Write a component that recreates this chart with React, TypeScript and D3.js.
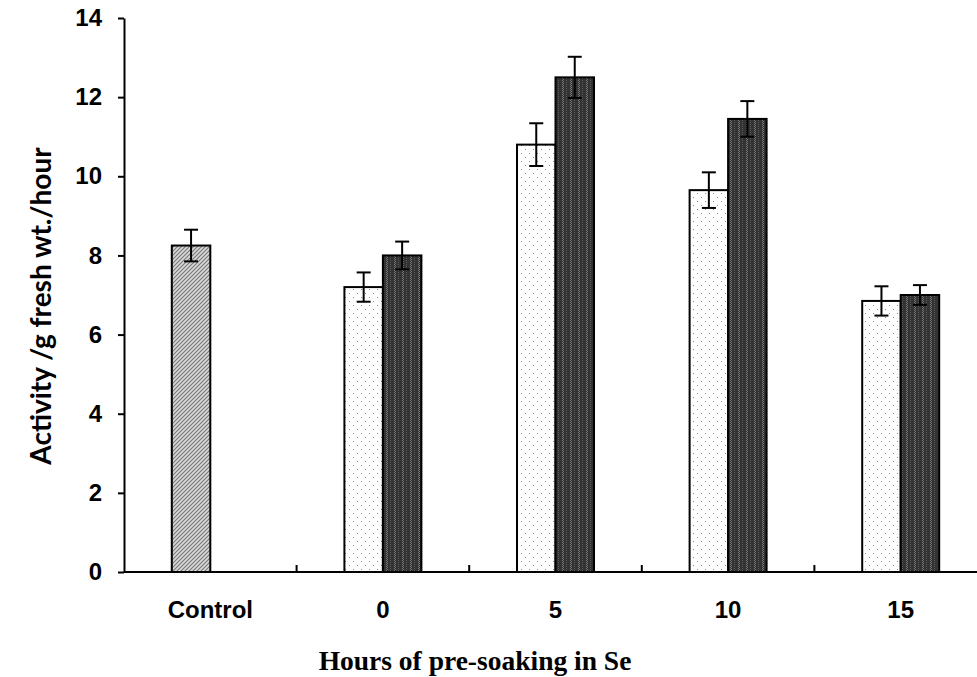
import React from 'react';
import * as d3 from 'd3';

const categories = ['Control', '0', '5', '10', '15'];
// first slot: control bar (only in Control) / light bars; second slot: dark bars
const lightValues = [null, 7.2, 10.8, 9.65, 6.85];
const lightErrors = [null, 0.37, 0.54, 0.45, 0.37];
const darkValues = [null, 8.0, 12.5, 11.45, 7.0];
const darkErrors = [null, 0.35, 0.52, 0.45, 0.25];
const controlValue = 8.25;
const controlError = 0.4;
const yTicks = [0, 2, 4, 6, 8, 10, 12, 14];

const width = 977;
const height = 677;
const margin = { top: 18, right: -10, bottom: 105, left: 124 };

function ActivityChart() {
  const svgRef = React.useRef(null);

  React.useEffect(() => {
    const svg = d3.select(svgRef.current);
    svg.selectAll('*').remove();

    const x = d3
      .scaleBand()
      .domain(categories)
      .range([margin.left, width - margin.right])
      .padding(0);

    const y = d3
      .scaleLinear()
      .domain([0, 14])
      .range([height - margin.bottom, margin.top]);

    const barW = x.bandwidth() * 0.223;

    // patterns
    const defs = svg.append('defs');

    const hatch = defs
      .append('pattern')
      .attr('id', 'hatch')
      .attr('patternUnits', 'userSpaceOnUse')
      .attr('width', 4)
      .attr('height', 4);
    hatch.append('rect').attr('width', 4).attr('height', 4).attr('fill', '#d8d8d8');
    hatch
      .append('path')
      .attr('d', 'M0,4 L4,0 M-1,1 L1,-1 M3,5 L5,3')
      .attr('stroke', '#7a7a7a')
      .attr('stroke-width', 1.2);

    const dots = defs
      .append('pattern')
      .attr('id', 'dots')
      .attr('patternUnits', 'userSpaceOnUse')
      .attr('width', 8)
      .attr('height', 8);
    dots.append('rect').attr('width', 8).attr('height', 8).attr('fill', '#ffffff');
    dots.append('rect').attr('x', 1).attr('y', 1).attr('width', 1).attr('height', 1).attr('fill', '#8a8a8a');
    dots.append('rect').attr('x', 5).attr('y', 5).attr('width', 1).attr('height', 1).attr('fill', '#8a8a8a');

    const stripes = defs
      .append('pattern')
      .attr('id', 'stripes')
      .attr('patternUnits', 'userSpaceOnUse')
      .attr('width', 8)
      .attr('height', 2);
    stripes.append('rect').attr('width', 8).attr('height', 2).attr('fill', '#333333');
    stripes.append('rect').attr('x', 2).attr('width', 1).attr('height', 1).attr('fill', '#777777');
    stripes.append('rect').attr('x', 3).attr('y', 1).attr('width', 1).attr('height', 1).attr('fill', '#777777');
    stripes.append('rect').attr('x', 6).attr('width', 1).attr('height', 1).attr('fill', '#5a5a5a');

    const center = (c) => x(c) + x.bandwidth() / 2;

    const bars = [];
    bars.push({ cat: 'Control', left: center('Control') - barW, v: controlValue, e: controlError, fill: 'url(#hatch)' });
    categories.forEach((c, i) => {
      if (lightValues[i] != null) {
        bars.push({ cat: c, left: center(c) - barW, v: lightValues[i], e: lightErrors[i], fill: 'url(#dots)' });
      }
      if (darkValues[i] != null) {
        bars.push({ cat: c, left: center(c), v: darkValues[i], e: darkErrors[i], fill: 'url(#stripes)' });
      }
    });

    svg
      .selectAll('.bar')
      .data(bars)
      .enter()
      .append('rect')
      .attr('x', (d) => d.left)
      .attr('y', (d) => y(d.v))
      .attr('width', barW)
      .attr('height', (d) => y(0) - y(d.v))
      .attr('fill', (d) => d.fill)
      .attr('stroke', '#000')
      .attr('stroke-width', 2);

    // error bars
    const err = svg.selectAll('.err').data(bars).enter().append('g');
    err
      .append('line')
      .attr('x1', (d) => d.left + barW / 2)
      .attr('x2', (d) => d.left + barW / 2)
      .attr('y1', (d) => y(d.v + d.e))
      .attr('y2', (d) => y(d.v - d.e))
      .attr('stroke', '#000')
      .attr('stroke-width', 2);
    [1, -1].forEach((s) => {
      err
        .append('line')
        .attr('x1', (d) => d.left + barW / 2 - 7)
        .attr('x2', (d) => d.left + barW / 2 + 7)
        .attr('y1', (d) => y(d.v + s * d.e))
        .attr('y2', (d) => y(d.v + s * d.e))
        .attr('stroke', '#000')
        .attr('stroke-width', 2);
    });

    // Y axis
    const yAxis = svg
      .append('g')
      .attr('transform', `translate(${margin.left},0)`)
      .call(d3.axisLeft(y).tickValues(yTicks).tickSize(6).tickSizeOuter(0).tickPadding(16));
    yAxis.select('.domain').attr('stroke', '#000').attr('stroke-width', 2);
    yAxis.selectAll('.tick line').attr('stroke', '#000').attr('stroke-width', 2);
    yAxis
      .selectAll('.tick text')
      .attr('font-family', 'Liberation Sans, Arial, sans-serif')
      .attr('font-weight', 'bold')
      .attr('font-size', 24)
      .attr('fill', '#000');

    // X axis
    const xAxis = svg.append('g').attr('transform', `translate(0,${y(0)})`);
    xAxis
      .append('line')
      .attr('x1', margin.left)
      .attr('x2', width + 20)
      .attr('stroke', '#000')
      .attr('stroke-width', 2);
    xAxis
      .selectAll('.xt')
      .data(categories.slice(1))
      .enter()
      .append('line')
      .attr('x1', (d) => x(d))
      .attr('x2', (d) => x(d))
      .attr('y1', 0)
      .attr('y2', -7)
      .attr('stroke', '#000')
      .attr('stroke-width', 2);
    xAxis
      .selectAll('.xl')
      .data(categories)
      .enter()
      .append('text')
      .attr('x', (d) => center(d))
      .attr('y', 46)
      .attr('text-anchor', 'middle')
      .attr('font-family', 'Liberation Sans, Arial, sans-serif')
      .attr('font-weight', 'bold')
      .attr('font-size', 24)
      .text((d) => d);

    // titles
    svg
      .append('text')
      .attr('x', 475)
      .attr('y', 670)
      .attr('text-anchor', 'middle')
      .attr('font-family', 'Liberation Serif, Times New Roman, serif')
      .attr('font-weight', 'bold')
      .attr('font-size', 27.5)
      .text('Hours of pre-soaking in Se');

    svg
      .append('text')
      .attr('transform', `translate(51,306) rotate(-90)`)
      .attr('text-anchor', 'middle')
      .attr('font-family', 'Lato, Open Sans, sans-serif')
      .attr('font-weight', 'bold')
      .attr('font-size', 28)
      .text('Activity /g fresh wt./hour');
  }, []);

  return (
    <svg
      ref={svgRef}
      width={width}
      height={height}
      style={{ position: 'absolute', left: 0, top: 0, background: '#fff' }}
    ></svg>
  );
}

export default function App() {
  return <ActivityChart />;
}
